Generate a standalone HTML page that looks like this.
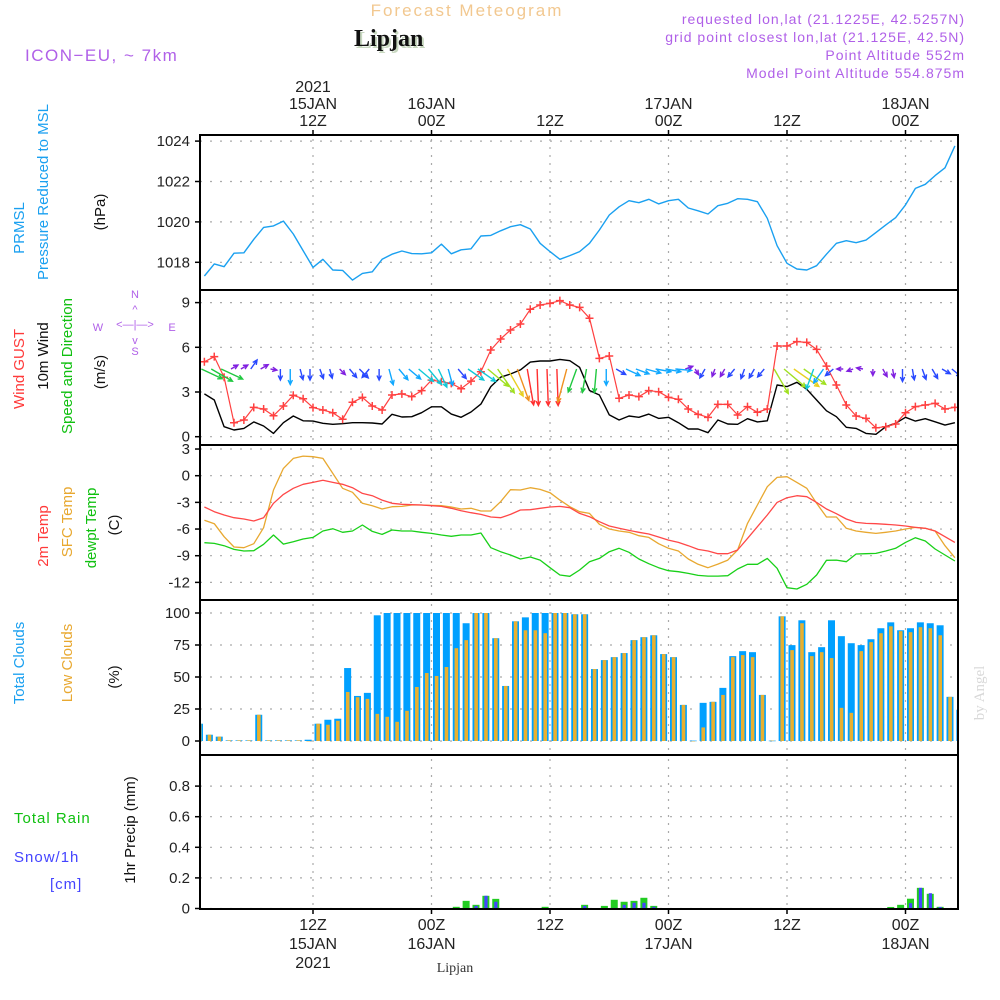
<!DOCTYPE html>
<html><head><meta charset="utf-8"><title>Forecast Meteogram - Lipjan</title>
<style>
html,body{margin:0;padding:0;background:#fff;}
svg{display:block;font-family:"Liberation Sans",sans-serif;}
.tk{font-size:15px;fill:#222;}
.tl{font-size:16px;fill:#222;text-anchor:middle;}
.lab{font-size:15px;}
</style></head>
<body>
<svg id="chart" width="1000" height="1000" viewBox="0 0 1000 1000" xmlns="http://www.w3.org/2000/svg">
<defs><clipPath id="plotclip"><rect x="201" y="135" width="757" height="775"/></clipPath></defs>
<rect x="0" y="0" width="1000" height="1000" fill="#fff"/>
<text x="467" y="16" text-anchor="middle" font-size="17" fill="#f2c890" letter-spacing="2">Forecast Meteogram</text>
<text x="356" y="48" font-family="Liberation Serif, serif" font-weight="bold" font-size="24" fill="#c8d8c0">Lipjan</text>
<text x="354" y="46" font-family="Liberation Serif, serif" font-weight="bold" font-size="24" fill="#111">Lipjan</text>
<text x="25" y="61" font-size="17" fill="#b060e8" letter-spacing="1.5">ICON−EU, ~ 7km</text>
<g font-size="14" fill="#b060e8" text-anchor="end" letter-spacing="1">
<text x="965" y="24">requested lon,lat (21.1225E, 42.5257N)</text>
<text x="965" y="42">grid point closest lon,lat (21.125E, 42.5N)</text>
<text x="965" y="60">Point Altitude 552m</text>
<text x="965" y="78">Model Point Altitude 554.875m</text>
</g>
<!-- left axis titles -->
<g class="lab">
<text transform="translate(24,228) rotate(-90)" text-anchor="middle" fill="#1aa0f0">PRMSL</text>
<text transform="translate(48,192) rotate(-90)" text-anchor="middle" fill="#1aa0f0">Pressure Reduced to MSL</text>
<text transform="translate(105,212) rotate(-90)" text-anchor="middle" fill="#111">(hPa)</text>
<text transform="translate(24,369) rotate(-90)" text-anchor="middle" fill="#ff3a3a">Wind GUST</text>
<text transform="translate(48,356) rotate(-90)" text-anchor="middle" fill="#111">10m Wind</text>
<text transform="translate(72,366) rotate(-90)" text-anchor="middle" fill="#10c010">Speed and Direction</text>
<text transform="translate(105,372) rotate(-90)" text-anchor="middle" fill="#111">(m/s)</text>
<text transform="translate(48,536) rotate(-90)" text-anchor="middle" fill="#ff3a3a">2m Temp</text>
<text transform="translate(72,522) rotate(-90)" text-anchor="middle" fill="#e8a830">SFC Temp</text>
<text transform="translate(96,528) rotate(-90)" text-anchor="middle" fill="#10c010">dewpt Temp</text>
<text transform="translate(119,525) rotate(-90)" text-anchor="middle" fill="#111">(C)</text>
<text transform="translate(24,663) rotate(-90)" text-anchor="middle" fill="#1aa0f0">Total Clouds</text>
<text transform="translate(72,663) rotate(-90)" text-anchor="middle" fill="#e8a830">Low Clouds</text>
<text transform="translate(119,677) rotate(-90)" text-anchor="middle" fill="#111">(%)</text>
<text transform="translate(135,830) rotate(-90)" text-anchor="middle" fill="#111">1hr Precip (mm)</text>
<text x="14" y="823" fill="#10c010" letter-spacing="1">Total  Rain</text>
<text x="14" y="862" fill="#4444ff" letter-spacing="1">Snow/1h</text>
<text x="50" y="889" fill="#4444ff" letter-spacing="1">[cm]</text>
</g>
<g font-size="11" fill="#b060e8" text-anchor="middle">
<text x="135" y="298">N</text><text x="135" y="355">S</text><text x="98" y="331">W</text><text x="172" y="331">E</text>
<text x="135" y="328">&lt;—|—&gt;</text>
<text x="135" y="313">^</text><text x="135" y="344">v</text>
</g>
<text transform="translate(984,693) rotate(-90)" text-anchor="middle" font-family="Liberation Serif, serif" font-size="15" fill="#d8d8d8">by Angel</text>
<text x="455" y="972" text-anchor="middle" font-family="Liberation Serif, serif" font-size="14" fill="#333">Lipjan</text>
<g id="grid"></g>
<g id="marks" clip-path="url(#plotclip)"></g>
<g id="axes"></g>
</svg>
<script>
// ---- data (hourly, h = 1..77 from 00Z 15JAN) ----
const pressure = [1017.32,1017.92,1017.78,1018.45,1018.47,1019.14,1019.73,1019.80,1020.04,1019.40,1018.58,1017.75,1018.15,1017.62,1017.60,1017.12,1017.45,1017.53,1018.15,1018.40,1018.56,1018.43,1018.42,1018.47,1018.90,1018.42,1018.62,1018.67,1019.30,1019.33,1019.56,1019.76,1019.86,1019.65,1018.94,1018.53,1018.15,1018.33,1018.53,1018.94,1019.60,1020.34,1020.75,1021.05,1020.95,1021.12,1020.89,1021.05,1021.12,1020.69,1020.55,1020.39,1020.80,1020.92,1021.15,1021.12,1021.00,1020.18,1018.82,1017.95,1017.67,1017.62,1017.83,1018.40,1018.94,1019.07,1018.97,1019.10,1019.47,1019.85,1020.21,1020.84,1021.66,1021.86,1022.29,1022.68,1023.76];
const gust = [5.03,5.37,3.99,0.94,1.12,1.97,1.86,1.41,2.06,2.78,2.55,1.95,1.79,1.61,1.17,2.31,2.64,2.06,1.79,2.80,2.87,2.69,3.09,3.80,3.69,3.58,3.22,3.73,4.36,5.82,6.56,7.16,7.56,8.55,8.84,8.95,9.13,8.84,8.68,7.95,5.26,5.42,2.58,2.80,2.69,3.09,3.02,2.64,2.51,1.86,1.50,1.30,2.17,2.17,1.46,2.02,1.64,1.86,6.09,6.09,6.38,6.33,5.86,4.74,3.47,2.13,1.39,1.23,0.60,0.67,0.85,1.61,2.02,2.13,2.24,1.86,1.97];
const wind10m = [2.87,2.46,0.67,0.45,0.56,0.99,0.72,0.22,0.94,1.39,1.07,1.05,0.90,0.83,0.87,0.94,0.94,0.92,0.85,1.50,1.32,1.34,1.61,2.01,2.01,1.52,1.30,1.66,2.19,3.36,3.99,4.21,4.48,5.01,5.08,5.08,5.19,5.10,4.66,3.10,2.80,1.46,1.12,1.39,1.30,1.52,1.23,1.30,0.94,0.52,0.52,0.27,1.12,0.85,0.83,1.21,0.99,1.07,3.47,3.36,3.65,3.18,2.46,1.74,1.34,0.63,0.56,0.22,0.16,0.67,0.90,1.30,1.05,1.21,1.00,0.78,0.94];
const arrowSpeed = [3.2,3.4,3.3,1.2,1.2,1.6,1.3,1.0,1.6,2.2,1.6,1.6,1.5,1.4,1.2,1.6,1.8,1.6,1.6,2.3,2.0,2.2,2.7,2.8,2.8,2.4,1.8,2.7,3.0,3.7,4.0,4.3,4.6,5.0,5.0,5.0,5.0,4.7,3.4,3.3,3.3,2.3,1.6,2.2,2.0,2.2,2.2,2.2,2.3,1.2,1.0,1.5,1.2,1.3,1.5,1.5,1.5,1.5,3.9,3.9,4.2,3.7,3.0,2.4,1.5,1.0,1.0,1.0,1.0,1.3,1.3,1.8,1.6,1.6,1.6,1.4,1.7];
const windDir = [115,120,115,60,60,35,60,100,180,180,165,180,160,165,135,140,135,220,180,165,140,130,130,140,155,165,140,125,125,130,145,150,160,170,178,178,178,195,200,190,185,180,120,115,110,105,100,100,95,70,150,210,200,210,220,200,210,220,150,130,125,125,200,215,230,270,250,280,180,150,170,180,170,160,150,120,130];
const temp2m = [-3.52,-4.05,-4.42,-4.72,-4.87,-5.10,-4.72,-3.11,-2.10,-1.42,-0.97,-0.75,-0.52,-0.75,-0.97,-1.35,-1.99,-2.25,-2.74,-3.11,-3.22,-3.26,-3.30,-3.37,-3.45,-3.67,-3.94,-4.16,-4.35,-4.65,-4.72,-4.35,-3.86,-3.82,-3.67,-3.52,-3.45,-3.60,-4.24,-4.61,-5.17,-5.66,-5.92,-6.15,-6.37,-6.56,-6.90,-7.24,-7.50,-7.87,-8.29,-8.47,-8.77,-8.77,-8.36,-7.05,-5.74,-4.42,-3.00,-2.47,-2.25,-2.36,-3.00,-3.75,-4.27,-4.87,-5.25,-5.36,-5.40,-5.47,-5.55,-5.66,-5.81,-5.92,-6.22,-6.86,-7.50];
const tempSfc = [-5.02,-5.40,-6.86,-8.02,-8.10,-7.65,-5.85,-1.61,0.82,1.95,2.21,2.14,1.95,0.26,-1.42,-1.87,-3.11,-3.37,-3.75,-3.49,-3.45,-3.30,-3.30,-3.34,-3.37,-3.52,-3.75,-3.67,-3.97,-3.97,-2.92,-1.57,-1.61,-1.35,-1.54,-1.91,-2.74,-3.49,-4.05,-4.24,-5.47,-6.00,-6.22,-6.37,-6.75,-6.94,-7.65,-8.17,-8.47,-9.37,-9.97,-10.35,-9.94,-9.49,-8.36,-5.36,-3.30,-1.24,-0.19,-0.11,-0.75,-1.42,-3.11,-4.65,-4.65,-5.92,-6.22,-6.37,-6.49,-6.37,-6.22,-6.00,-5.81,-5.92,-6.22,-7.87,-9.22];
const dewpt = [-7.54,-7.61,-7.87,-8.29,-8.47,-8.44,-7.72,-6.67,-7.69,-7.42,-7.12,-6.94,-6.22,-5.96,-6.37,-6.22,-5.55,-6.26,-6.60,-6.11,-6.22,-6.22,-6.37,-6.49,-6.67,-6.82,-6.67,-6.67,-6.45,-8.10,-8.55,-8.92,-9.37,-9.15,-9.49,-10.35,-11.17,-11.32,-10.61,-9.67,-9.30,-8.55,-8.17,-8.62,-9.37,-9.90,-10.35,-10.69,-10.80,-10.99,-11.21,-11.29,-11.29,-11.25,-10.50,-9.97,-9.97,-9.30,-10.42,-12.60,-12.75,-12.22,-11.17,-9.52,-9.49,-9.67,-8.81,-8.77,-8.74,-8.47,-8.17,-7.50,-6.97,-7.35,-8.25,-8.92,-9.60];
// clouds & precip: h = 0..77
const totalClouds = [13.5,4.9,3.4,0.5,0.5,0.5,20.5,0.5,0.5,0.5,0.5,1,13.5,16.6,17.4,57,35.2,37.6,98.2,100,100,100,100,100,100,100,100,92,100,100,80.3,43,93.5,96.6,100,100,100,100,99,99,56.2,63.2,65.5,68.7,78.8,81.1,82.6,67.9,65.5,28.2,0.3,29.8,30.6,41.5,66.3,70.2,69.4,36,0.3,97.4,74.9,94.3,69.4,73.3,94.3,81.9,76.4,74.9,79.5,88.1,92.7,86.5,88.1,92.7,92,90.4,34.5,24.4];
const lowClouds = [13.5,4.9,3.4,0.5,0.5,0.5,20.5,0.5,0.5,0.5,0.5,0,13.5,12.7,15.8,38.3,34.2,32.9,21.2,18.9,15,23.6,42.2,53.1,50.8,57.8,72.5,78.8,100,100,80.3,43,93.5,86.5,86.5,84.2,100,100,99,99,56.2,63.2,65.5,68.7,78.8,81.1,82.6,67.9,65.5,28.2,0,10.6,30.6,36,65.5,67.1,65.5,36,0.3,97.4,71,92,66.3,69.4,64.8,25.9,22,70.2,77.2,84.2,89.6,85.8,85,88.9,88.1,82.6,34.5,24.4];
const rain = [0,0,0,0,0,0,0,0,0,0,0,0,0,0,0,0,0,0,0,0,0,0,0,0,0,0,0.011,0.05,0.024,0.083,0.063,0.002,0,0,0,0.011,0,0,0,0.024,0,0.017,0.057,0.044,0.05,0.07,0.017,0,0,0,0,0,0,0,0,0,0,0,0,0,0,0,0,0,0,0,0,0,0,0,0.01,0.024,0.064,0.135,0.096,0.011,0,0];
const snow = [0,0,0,0,0,0,0,0,0,0,0,0,0,0,0,0,0,0,0,0,0,0,0,0,0,0,0,0,0.017,0.083,0.044,0.003,0,0.002,0,0,0,0,0.003,0.017,0,0,0.004,0.024,0.037,0.037,0.011,0,0,0,0,0,0,0,0,0,0,0,0,0,0,0,0,0,0,0,0,0,0,0,0,0.004,0.035,0.135,0.1,0.01,0,0];
const pTicks = [1018,1020,1022,1024];
const wTicks = [0,3,6,9];
const tTicks = [3,0,-3,-6,-9,-12];
const cTicks = [0,25,50,75,100];
const rTicks = [0,0.2,0.4,0.6,0.8];
const timeTicksH = [12,24,36,48,60,72];
const topTimeLabels = [["2021","15JAN","12Z"],["","16JAN","00Z"],["","","12Z"],["","17JAN","00Z"],["","","12Z"],["","18JAN","00Z"]];
const botTimeLabels = [["12Z","15JAN","2021"],["00Z","16JAN",""],["12Z","",""],["00Z","17JAN",""],["12Z","",""],["00Z","18JAN",""]];

// ---- axis functions ----
const X = h => 313 + (h - 12) * 9.875;
const yP = v => 262.3 - (v - 1018) * 20.2;
const yW = v => 436.7 - v * 14.9;
const yT = v => 475.7 - v * 8.89;
const yC = v => 741 - v * 1.28;
const yR = v => 908.5 - v * 153;

const NS = 'http://www.w3.org/2000/svg';
const grid = document.getElementById('grid');
const marks = document.getElementById('marks');
const axes = document.getElementById('axes');
function mk(tag, parent, attrs) {
  const e = document.createElementNS(NS, tag);
  for (const k in attrs) e.setAttribute(k, attrs[k]);
  parent.appendChild(e);
  return e;
}
const L = 200, R = 958;
const panels = [[135,290,yP,pTicks,'pressure'],[290,445,yW,wTicks,'wind'],[445,600,yT,tTicks,'temp'],[600,755,yC,cTicks,'cloud'],[755,909,yR,rTicks,'precip']];

// grid
panels.forEach(p => {
  p[3].forEach(t => {
    const y = p[2](t);
    const g = mk('line', grid, {x1:L, x2:R, y1:y, y2:y, stroke:'#aaa', 'stroke-width':1.2, 'stroke-dasharray':'2,8'});
    
    
    const lb = mk('text', axes, {x:190, y:y+5, 'text-anchor':'end', class:'tk'});
    lb.textContent = (p[4]==='precip' && t!==0) ? t.toFixed(1) : String(t);
    
    
    const tk = mk('line', axes, {x1:L-5, x2:L, y1:y, y2:y, stroke:'#000', 'stroke-width':1.5});
    
    
  });
  timeTicksH.forEach(h => {
    const vl = mk('line', grid, {x1:X(h), x2:X(h), y1:p[0]+4, y2:p[1]-2, stroke:'#aaa', 'stroke-width':1.2, 'stroke-dasharray':'2,6'});
    
    
  });
});
// time labels
timeTicksH.forEach((h, i) => {
  const x = X(h);
  topTimeLabels[i].forEach((s, j) => {
    if (!s) return;
    const t = mk('text', axes, {x:x, y:92 + j*17, class:'tl'});
    t.textContent = s;
    
    
  });
  botTimeLabels[i].forEach((s, j) => {
    if (!s) return;
    const t = mk('text', axes, {x:x, y:930 + j*19, class:'tl'});
    t.textContent = s;
    
    
  });
  const tt = mk('line', axes, {x1:x, x2:x, y1:130, y2:136, stroke:'#000', 'stroke-width':1.5});
  
  
  const bt = mk('line', axes, {x1:x, x2:x, y1:908, y2:914, stroke:'#000', 'stroke-width':1.5});
  
  
});

function line(arr, yf, color, w, name) {
  const pts = arr.map((v, i) => X(i + 1).toFixed(1) + ',' + yf(v).toFixed(1)).join(' ');
  const pl = mk('polyline', marks, {points:pts, fill:'none', stroke:color, 'stroke-width':w, 'stroke-linejoin':'round'});
  
  
}
line(pressure, yP, '#1aa0f0', 1.4, 'pressure-line');
line(wind10m, yW, '#000', 1.4, 'wind-10m-line');
line(gust, yW, '#ff4040', 1.2, 'gust-line');
gust.forEach((v, i) => {
  const x = X(i + 1), y = yW(v);
  const m = mk('path', marks, {d:`M${x-4},${y}H${x+4}M${x},${y-4}V${y+4}`, stroke:'#ff4040', 'stroke-width':1.5});
  
  
});
function arrowColor(s) {
  if (s < 1.4) return '#8020e0';
  if (s < 2.0) return '#2848ff';
  if (s < 2.6) return '#10a8ff';
  if (s < 3.2) return '#10c8d8';
  if (s < 3.6) return '#20c840';
  if (s < 4.1) return '#a0e020';
  if (s < 4.5) return '#e8d020';
  if (s < 4.9) return '#f09020';
  return '#ff3030';
}
arrowSpeed.forEach((s, i) => {
  const x0 = X(i + 1) - 3, y0 = 369;
  const len = 7.5 * s - 1;
  const a = windDir[i] * Math.PI / 180;
  const dx = Math.sin(a), dy = -Math.cos(a);
  const x1 = x0 + dx * len, y1 = y0 + dy * len;
  const hl = 5, ha = 0.45;
  const b1 = a + Math.PI - ha, b2 = a + Math.PI + ha;
  const d = `M${x0},${y0}L${x1},${y1}M${x1 + Math.sin(b1)*hl},${y1 - Math.cos(b1)*hl}L${x1},${y1}L${x1 + Math.sin(b2)*hl},${y1 - Math.cos(b2)*hl}`;
  const ar = mk('path', marks, {d:d, fill:'none', stroke:arrowColor(s), 'stroke-width':1.4});
  
  
});
line(tempSfc, yT, '#e8a830', 1.3, 'sfc-temp-line');
line(temp2m, yT, '#ff4848', 1.3, 'temp-2m-line');
line(dewpt, yT, '#18d018', 1.3, 'dewpt-line');
totalClouds.forEach((v, i) => {
  const x = X(i) + 1.5;
  const b = mk('rect', marks, {x:x, y:yC(v), width:7, height:Math.max(0.6, yC(0) - yC(v)), fill:'#00a0ff'});
  
  
  const o = mk('rect', marks, {x:x + 1.8, y:yC(lowClouds[i]), width:3.6, height:Math.max(0.4, yC(0) - yC(lowClouds[i])), fill:'#e8b030'});
  
  
});
rain.forEach((v, i) => {
  if (v <= 0) return;
  const x = X(i) + 1.5;
  const b = mk('rect', marks, {x:x, y:yR(v), width:7, height:yR(0) - yR(v), fill:'#22cc22'});
  
  
});
snow.forEach((v, i) => {
  if (v <= 0) return;
  const x = X(i) + 1.5;
  const b = mk('rect', marks, {x:x + 2, y:yR(v), width:3.2, height:yR(0) - yR(v), fill:'#4444ff'});
  
  
});
// frames
panels.forEach(p => {
  const f = mk('rect', axes, {x:L, y:p[0], width:R - L, height:p[1] - p[0], fill:'none', stroke:'#000', 'stroke-width':2});
  
  
});
</script>
</body></html>
